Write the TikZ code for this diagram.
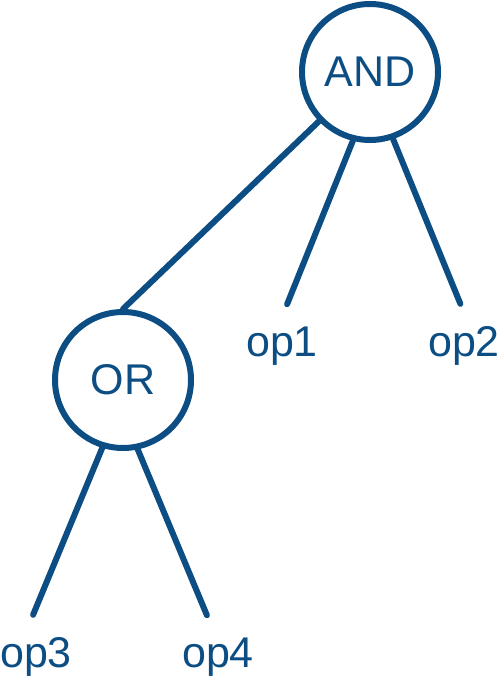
\documentclass[tikz,border=0pt]{standalone}
\usepackage{fontspec}
\setmainfont{Liberation Sans}
\definecolor{treeblue}{RGB}{12,78,132}

\begin{document}
\begin{tikzpicture}[
  x=1pt,y=-1pt,
  every node/.style={text=treeblue,font=\fontsize{43}{50}\selectfont},
  gate/.style={circle,draw=treeblue,line width=6pt,minimum size=136pt,inner sep=0pt},
  leaf/.style={anchor=base,inner sep=22pt},
  link/.style={draw=treeblue,line width=6pt,line cap=round}
  ]
  \useasboundingbox (0,0) rectangle (500,677);
  \node [gate] (and) at (370,72) {AND};
  \node [gate] (or) at (123,380) {OR};
  \node [leaf] (op1) at (282,356) {op1};
  \node [leaf] (op2) at (464,356) {op2};
  \node [leaf] (op3) at (36,667) {op3};
  \node [leaf] (op4) at (218,667) {op4};
  % edges of the tree
  \draw [link] (and.224) -- (or.north);
  \draw [link] (and.256) -- (op1.83);
  \draw [link] (and.289) -- (op2.95);
  \draw [link] (or.253) -- (op3.94);
  \draw [link] (or.282) -- (op4.105);
\end{tikzpicture}
\end{document}
